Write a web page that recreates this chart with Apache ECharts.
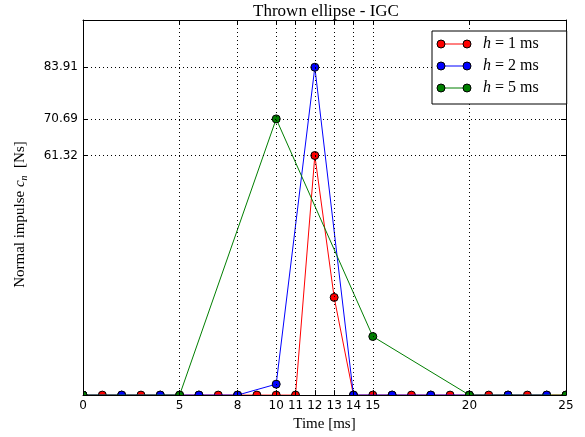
<!DOCTYPE html>
<html>
<head>
<meta charset="utf-8">
<script src="https://cdn.jsdelivr.net/npm/echarts@6/dist/echarts.min.js"></script>
<style>
  html, body { margin: 0; padding: 0; background: #fff; }
  #chart { width: 585px; height: 437px; }
</style>
</head>
<body>
<div id="chart"></div>
<script>
// Normal impulse per time step for three step sizes
const timesH1 = [0,1,2,3,4,5,6,7,8,9,10,11,12,13,14,15,16,17,18,19,20,21,22,23,24,25];
const impulseH1 = [0,0,0,0,0,0,0,0,0,0,0,0,61.32,25.0,0,0,0,0,0,0,0,0,0,0,0,0];
const timesH2 = [0,2,4,6,8,10,12,14,16,18,20,22,24];
const impulseH2 = [0,0,0,0,0,2.8,83.91,0,0,0,0,0,0];
const timesH5 = [0,5,10,15,20,25];
const impulseH5 = [0,0,70.69,15.0,0,0];

const seriesNames = ['h1', 'h2', 'h5'];
const seriesSteps = ['1', '2', '5'];
const seriesColors = ['#ff0000', '#0000ff', '#007f00'];

const xTicks = [0,5,8,10,11,12,13,14,15,20,25];
const yTicks = [61.32,70.69,83.91];

const pairs = (xs, ys) => xs.map((x, i) => [x, ys[i]]);

const chart = echarts.init(document.getElementById('chart'));
const sans = 'DejaVu Sans';
const serif = 'Liberation Serif';

// plot box in pixels
const G = { left: 83, right: 19, top: 20, bottom: 41, W: 585, H: 437 };

const gridLine = { show: true, lineStyle: { color: '#000', type: [1, 3], width: 1 } };
const frameLine = { show: true, onZero: false, lineStyle: { color: '#000', width: 1 } };

function mkSeries(i, data) {
  const color = seriesColors[i];
  return {
    name: seriesNames[i],
    type: 'line',
    data: data,
    z: 3 + i,
    symbol: 'circle',
    symbolSize: 8,
    showSymbol: true,
    animation: false,
    lineStyle: { color: color, width: 1 },
    itemStyle: { color: color, borderColor: '#000', borderWidth: 1 }
  };
}

// white masks around the plot box so marks are cut at the frame
const plotBottom = G.H - G.bottom;
const plotRight = G.W - G.right;
const white = { fill: '#fff' };
const masks = [
  { type: 'rect', z: 8, silent: true, shape: { x: 0, y: plotBottom, width: G.W, height: G.bottom }, style: white },
  { type: 'rect', z: 8, silent: true, shape: { x: 0, y: 0, width: G.left, height: G.H }, style: white },
  { type: 'rect', z: 8, silent: true, shape: { x: plotRight, y: 0, width: G.right, height: G.H }, style: white },
  { type: 'rect', z: 8, silent: true, shape: { x: 0, y: 0, width: G.W, height: G.top }, style: white }
];

// legend keys: a short line with a marker at each end
const keyX0 = 441, keyX1 = 467, keyY0 = 44, keyStep = 22;
const legendKeys = [];
seriesColors.forEach((c, i) => {
  const y = keyY0 + i * keyStep;
  legendKeys.push({ type: 'line', z: 30, silent: true, shape: { x1: keyX0, y1: y, x2: keyX1, y2: y }, style: { stroke: c, lineWidth: 1 } });
  [keyX0, keyX1].forEach(x => legendKeys.push({
    type: 'circle', z: 31, silent: true, shape: { cx: x, cy: y, r: 4 }, style: { fill: c, stroke: '#000', lineWidth: 1 }
  }));
});

chart.setOption({
  animation: false,
  title: {
    text: 'Thrown ellipse - IGC',
    left: 321, top: -2, textAlign: 'center', z: 12,
    textStyle: { fontFamily: serif, fontSize: 17, fontWeight: 'normal', color: '#000' }
  },
  grid: { left: G.left, right: G.right, top: G.top, bottom: G.bottom },
  legend: {
    left: 432, top: 31, z: 20,
    orient: 'vertical',
    backgroundColor: '#fff',
    borderColor: '#000', borderWidth: 1,
    padding: [4, 28, 7, 9],
    itemGap: 4,
    itemWidth: 36, itemHeight: 16,
    icon: 'rect',
    itemStyle: { opacity: 0 },
    lineStyle: { opacity: 0 },
    textStyle: {
      fontFamily: serif, fontSize: 16, color: '#000',
      rich: { i: { fontFamily: serif, fontStyle: 'italic', fontSize: 16 } }
    },
    formatter: function (n) { return '{i|h} = ' + seriesSteps[seriesNames.indexOf(n)] + ' ms'; },
    data: seriesNames
  },
  xAxis: [{
    type: 'value', min: 0, max: 25, z: 10,
    name: 'Time [ms]', nameLocation: 'middle', nameGap: 21,
    nameTextStyle: { fontFamily: serif, fontSize: 15, color: '#000' },
    axisLine: frameLine,
    axisTick: { show: true, inside: true, length: 5, customValues: xTicks, lineStyle: { color: '#000' } },
    axisLabel: { customValues: xTicks, fontFamily: sans, fontSize: 12, color: '#000', margin: 5 },
    splitLine: gridLine
  }, {
    type: 'value', min: 0, max: 25, position: 'top', z: 10,
    axisLine: frameLine,
    axisTick: { show: true, inside: true, length: 5, customValues: xTicks, lineStyle: { color: '#000' } },
    axisLabel: { show: false },
    splitLine: { show: false }
  }],
  yAxis: [{
    type: 'value', min: 0, max: 96, z: 10,
    name: 'Normal impulse {i|c}{s|n}  [Ns]', nameLocation: 'middle', nameGap: 54,
    nameTextStyle: {
      fontFamily: serif, fontSize: 15, color: '#000', padding: [0, 14, 0, 0],
      rich: {
        i: { fontFamily: serif, fontStyle: 'italic', fontSize: 15 },
        s: { fontFamily: serif, fontStyle: 'italic', fontSize: 10, verticalAlign: 'bottom', padding: [7, 0, 0, 0] }
      }
    },
    axisLine: frameLine,
    axisTick: { show: true, inside: true, length: 5, customValues: yTicks, lineStyle: { color: '#000' } },
    axisLabel: { customValues: yTicks, fontFamily: sans, fontSize: 12, color: '#000', margin: 5,
      formatter: v => v.toFixed(2) },
    splitLine: gridLine
  }, {
    type: 'value', min: 0, max: 96, position: 'right', z: 10,
    axisLine: frameLine,
    axisTick: { show: true, inside: true, length: 5, customValues: yTicks, lineStyle: { color: '#000' } },
    axisLabel: { show: false },
    splitLine: { show: false }
  }],
  graphic: masks.concat(legendKeys),
  series: [
    mkSeries(0, pairs(timesH1, impulseH1)),
    mkSeries(1, pairs(timesH2, impulseH2)),
    mkSeries(2, pairs(timesH5, impulseH5))
  ]
});
</script>
</body>
</html>
